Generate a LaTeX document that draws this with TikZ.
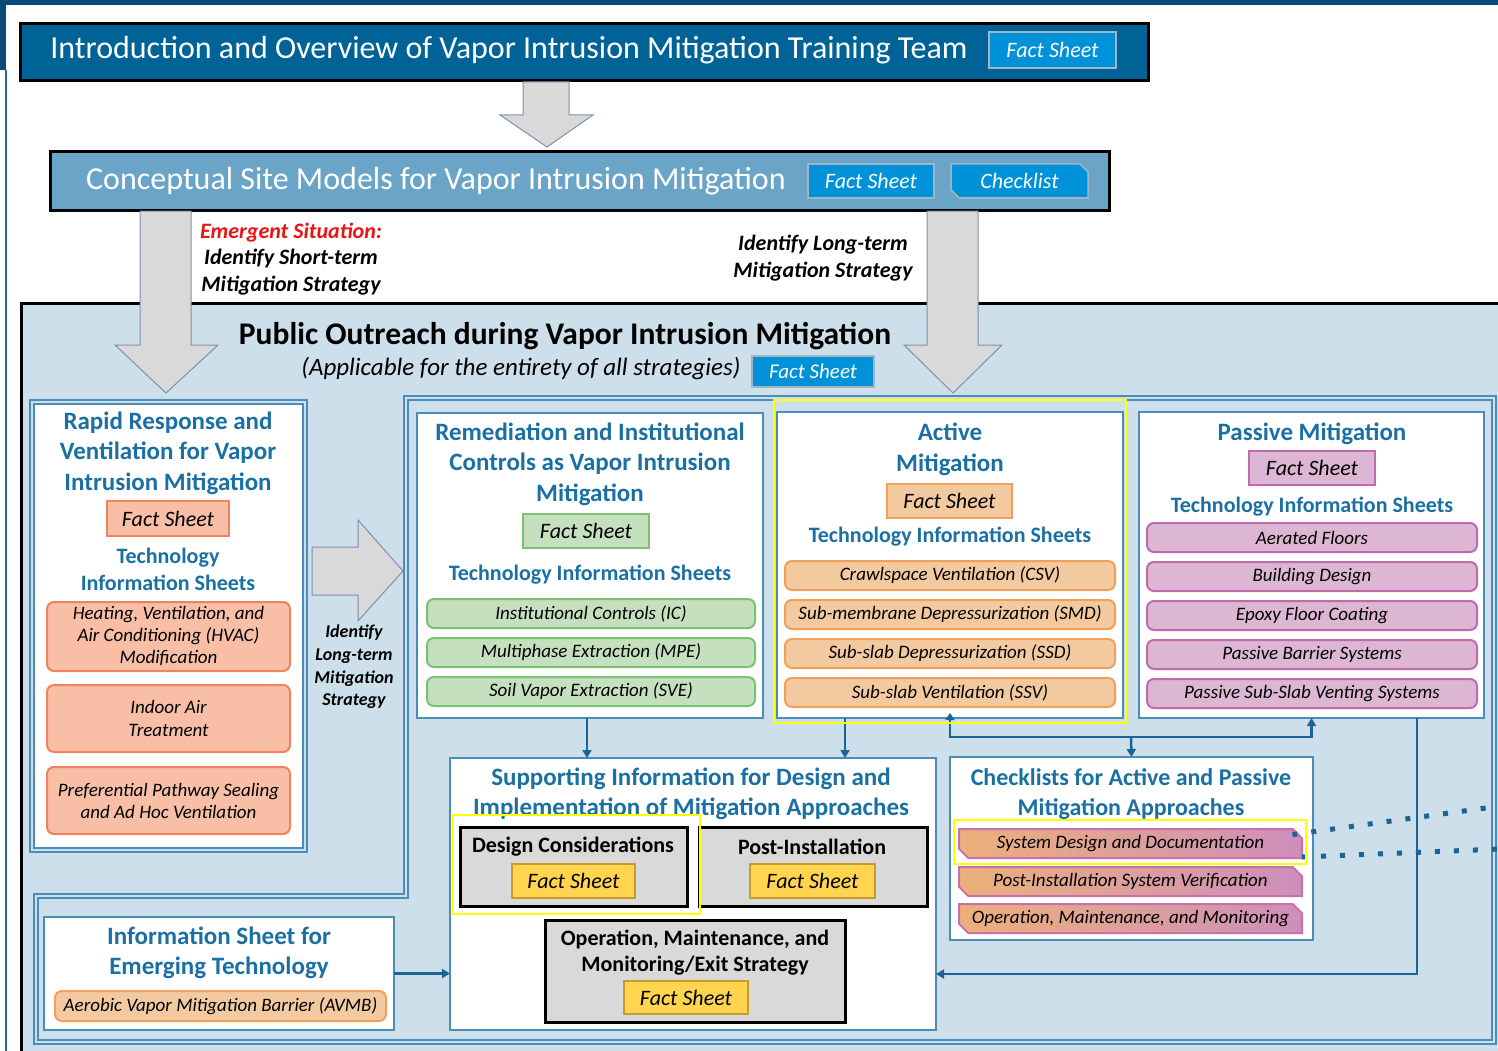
\documentclass[tikz,border=0pt]{standalone}
\usepackage{fontspec}
\setmainfont{Carlito}
\usetikzlibrary{arrows.meta,shapes.misc,calc}
\newcommand\myfs[2]{\fontsize{#1}{#2}\selectfont}
\definecolor{navy}{RGB}{10,75,120}
\definecolor{leftline}{RGB}{30,110,165}
\definecolor{tonebl}{RGB}{0,99,152}
\definecolor{ttwobl}{RGB}{106,164,199}
\definecolor{btnblue}{RGB}{0,146,216}
\definecolor{btnedge}{RGB}{165,180,195}
\definecolor{bgblue}{RGB}{204,223,234}
\definecolor{frameblue}{RGB}{74,141,184}
\definecolor{connblue}{RGB}{28,100,150}
\definecolor{ttlblue}{RGB}{27,112,163}
\definecolor{salfill}{RGB}{248,190,166}
\definecolor{saledge}{RGB}{240,130,95}
\definecolor{grfill}{RGB}{197,224,190}
\definecolor{gredge}{RGB}{125,192,115}
\definecolor{orfill}{RGB}{243,202,160}
\definecolor{oredge}{RGB}{240,160,90}
\definecolor{pkfill}{RGB}{221,182,212}
\definecolor{pkedge}{RGB}{192,105,172}
\definecolor{gybox}{RGB}{217,217,217}
\definecolor{ylfill}{RGB}{255,213,80}
\definecolor{yledge}{RGB}{200,155,45}
\definecolor{hilite}{RGB}{255,255,0}
\definecolor{arrfill}{RGB}{217,217,217}
\definecolor{arredge}{RGB}{125,145,175}
\definecolor{emred}{RGB}{235,20,20}
\definecolor{ckleft}{RGB}{236,176,122}
\definecolor{ckright}{RGB}{206,142,188}
\definecolor{ckedge}{RGB}{200,112,170}
\tikzset{
 bx/.style n args={4}{inner sep=0pt, outer sep=0pt, minimum width={#3-#1}, minimum height={#4-#2}, at={({(#1+#3)/2},{(#2+#4)/2})}},
 btn/.style={fill=btnblue, draw=btnedge, line width=1.5pt, text=white, font=\itshape\myfs{22}{26}},
 wbox/.style={fill=white, draw=frameblue, line width=2pt},
 ttl/.style={text=ttlblue, font=\bfseries\myfs{25}{30.5}, align=center},
 tis/.style={text=ttlblue, font=\bfseries\myfs{22}{27}, align=center},
 itembox/.style={rounded corners=7pt, line width=2pt, font=\itshape\myfs{19}{22}, align=center},
 salitem/.style={itembox, fill=salfill, draw=saledge},
 gritem/.style={itembox, fill=grfill, draw=gredge},
 oritem/.style={itembox, fill=orfill, draw=oredge},
 pkitem/.style={itembox, fill=pkfill, draw=pkedge},
 factbox/.style={line width=2pt, font=\itshape\myfs{22}{26}},
 gbox/.style={fill=gybox, draw=black, line width=3pt},
 gtxt/.style={font=\bfseries\myfs{22}{26}, align=center},
 hl/.style={draw=hilite, line width=2pt},
 bigarrow/.style={fill=arrfill, draw=arredge, line width=1pt},
 cn/.style={draw=connblue, line width=2.5pt, -{Triangle[width=9pt,length=8pt]}},
 cnline/.style={draw=connblue, line width=2.5pt},
 ckitem/.style={chamfered rectangle, chamfered rectangle corners={north east,south west}, chamfered rectangle xsep=6pt, left color=ckleft, right color=ckright, draw=ckedge, line width=2pt, font=\itshape\myfs{19}{22}},
 dotline/.style={draw=connblue, line width=5pt, dash pattern=on 5pt off 14pt},
 strat/.style={font=\bfseries\itshape\myfs{22}{26.5}, align=center},
}
\begin{document}
\begin{tikzpicture}[x=1pt,y=-1pt]
\useasboundingbox (0,0) rectangle (1498,1051);
\clip (0,0) rectangle (1498,1051);
\fill[white] (0,0) rectangle (1498,1051);
% page edges
\fill[navy] (0,0) rectangle (1498,5);
\fill[navy] (0,0) rectangle (6,70);
\draw[leftline, line width=2pt] (6,70) -- (6,1051);

% Public outreach background
\fill[bgblue] (21,303) rectangle (1500,1055);
\draw[black, line width=3pt] (1500,303) -- (21.5,303) -- (21.5,1055);

% Title 1
\node[bx={20}{24}{1148}{81}, fill=tonebl, draw=black, line width=3pt] (intro) {};
\node[text=white, font=\myfs{32}{38}] (introtxt) at (509,50) {Introduction and Overview of Vapor Intrusion Mitigation Training Team};
\node[bx={989}{32}{1116}{68}, btn] (introfs) {Fact Sheet};

% top arrow
\draw[bigarrow] (523,82) -- (569,82) -- (569,115) -- (593,115) -- (547,147) -- (500,115) -- (523,115) -- cycle;

% Title 2
\node[bx={50}{152}{1109}{210}, fill=ttwobl, draw=black, line width=3pt] (csm) {};
\node[text=white, font=\myfs{32}{38}] (csmtxt) at (436,181) {Conceptual Site Models for Vapor Intrusion Mitigation};
\node[bx={808}{164}{934}{198}, btn] (csmfs) {Fact Sheet};
\node[bx={951}{164}{1088}{198}, btn, chamfered rectangle, chamfered rectangle corners={north east,south west}, chamfered rectangle xsep=5pt] (csmck) {Checklist};

% strategy texts
\node[strat] (shortt) at (291,259) {\textcolor{emred}{Emergent Situation:}\\Identify Short-term\\Mitigation Strategy};
\node[strat] (longt) at (823,258) {Identify Long-term\\Mitigation Strategy};

% PO title
\node[font=\bfseries\myfs{31.5}{36}] (po) at (565,336) {Public Outreach during Vapor Intrusion Mitigation};
\node[font=\itshape\myfs{25}{28}, anchor=east] (posub) at (744,369) {(Applicable for the entirety of all strategies)};
\node[bx={752}{356}{874}{387}, btn, font=\itshape\myfs{21}{24}] (pofs) {Fact Sheet};

% L frame
\draw[frameblue, line width=1.3pt, double=bgblue, double distance=2.5pt] (406,398) -- (1494,398) -- (1494,1042) -- (36,1042) -- (36,896) -- (406,896) -- cycle;

% big down arrows
\draw[bigarrow] (140,211) -- (191,211) -- (191,345) -- (218,345) -- (166,393) -- (115,345) -- (140,345) -- cycle;
\draw[bigarrow] (927,211) -- (978,211) -- (978,345) -- (1002,345) -- (953,393) -- (904,345) -- (927,345) -- cycle;

% left column
\node[bx={32}{402}{305}{850}, fill=white, draw=frameblue, line width=1.3pt, double=bgblue, double distance=2.5pt] (rapid) {};
\node[ttl] (rapidt) at (168,453) {Rapid Response and\\Ventilation for Vapor\\Intrusion Mitigation};
\node[bx={107}{501}{229}{536}, factbox, fill=salfill, draw=saledge] (rapidfs) {Fact Sheet};
\node[tis] (rapidtis) at (168,569) {Technology\\Information Sheets};
\node[bx={47}{602}{290}{671}, salitem] (hvac) {Heating, Ventilation, and\\Air Conditioning (HVAC)\\Modification};
\node[bx={47}{685}{290}{752}, salitem, font=\itshape\myfs{19}{23}] (iat) {Indoor Air\\Treatment};
\node[bx={47}{767}{290}{834}, salitem] (pps) {Preferential Pathway Sealing\\and Ad Hoc Ventilation};

% horizontal arrow
\draw[bigarrow] (312,547) -- (358,547) -- (358,520) -- (403,571) -- (358,621) -- (358,595) -- (312,595) -- cycle;
\node[font=\bfseries\itshape\myfs{18}{22.7}, align=center] (hlabel) at (354,667) {Identify\\Long-term\\Mitigation\\Strategy};

% Remediation
\node[bx={417}{413}{763}{718}, wbox] (rem) {};
\node[ttl] (remt) at (590,464) {Remediation and Institutional\\Controls as Vapor Intrusion\\Mitigation};
\node[bx={523}{514}{649}{548}, factbox, fill=grfill, draw=gredge] (remfs) {Fact Sheet};
\node[tis] (remtis) at (590,575) {Technology Information Sheets};
\node[bx={427}{599}{755}{628}, gritem] (ic) {Institutional Controls (IC)};
\node[bx={427}{638}{755}{667}, gritem] (mpe) {Multiphase Extraction (MPE)};
\node[bx={427}{677}{755}{706}, gritem] (sve) {Soil Vapor Extraction (SVE)};

% Active
\node[bx={777}{412}{1123}{718}, wbox] (act) {};
\node[ttl, font=\bfseries\myfs{25}{31}] (actt) at (950,449) {Active\\Mitigation};
\node[bx={887}{484}{1012}{518}, factbox, fill=orfill, draw=oredge] (actfs) {Fact Sheet};
\node[tis] (acttis) at (950,537) {Technology Information Sheets};
\node[bx={785}{561}{1115}{590}, oritem] (csv) {Crawlspace Ventilation (CSV)};
\node[bx={785}{600}{1115}{629}, oritem] (smd) {Sub-membrane Depressurization (SMD)};
\node[bx={785}{639}{1115}{668}, oritem] (ssd) {Sub-slab Depressurization (SSD)};
\node[bx={785}{678}{1115}{707}, oritem] (ssv) {Sub-slab Ventilation (SSV)};

% Passive
\node[bx={1139}{412}{1484}{718}, wbox] (pas) {};
\node[ttl] (past) at (1312,434) {Passive Mitigation};
\node[bx={1249}{451}{1375}{485}, factbox, fill=pkfill, draw=pkedge] (pasfs) {Fact Sheet};
\node[tis] (pastis) at (1312,507) {Technology Information Sheets};
\node[bx={1147}{523}{1477}{552}, pkitem] (af) {Aerated Floors};
\node[bx={1147}{562}{1477}{591}, pkitem] (bd) {Building Design};
\node[bx={1147}{601}{1477}{630}, pkitem] (efc) {Epoxy Floor Coating};
\node[bx={1147}{640}{1477}{669}, pkitem] (pbs) {Passive Barrier Systems};
\node[bx={1147}{679}{1477}{708}, pkitem] (pss) {Passive Sub-Slab Venting Systems};

% Supporting
\node[bx={450}{758}{936}{1030}, wbox] (sup) {};
\node[ttl, font=\bfseries\myfs{25}{30}] (supt) at (691,794) {Supporting Information for Design and\\Implementation of Mitigation Approaches};
\node[bx={699}{827}{927}{906}, gbox] (post) {};
\node[gtxt] (postt) at (812,847) {Post-Installation};
\node[bx={750}{864}{875}{898}, factbox, fill=ylfill, draw=yledge] (postfs) {Fact Sheet};
\node[bx={460}{827}{687}{906}, gbox] (des) {};
\node[gtxt] (dest) at (573,847) {Design Considerations};
\node[bx={512}{864}{635}{898}, factbox, fill=ylfill, draw=yledge] (desfs) {Fact Sheet};
\node[bx={545}{920}{845}{1022}, gbox] (omm) {};
\node[gtxt] (ommt) at (695,953) {Operation, Maintenance, and\\Monitoring/Exit Strategy};
\node[bx={624}{981}{748}{1014}, factbox, fill=ylfill, draw=yledge] (ommfs) {Fact Sheet};

% Checklists
\node[bx={950}{757}{1313}{940}, wbox] (chk) {};
\node[ttl, font=\bfseries\myfs{24}{30}] (chkt) at (1131,794) {Checklists for Active and Passive\\Mitigation Approaches};
\node[bx={959}{829}{1302}{858}, ckitem] (ck1) {System Design and Documentation};
\node[bx={959}{867}{1302}{896}, ckitem] (ck2) {Post-Installation System Verification};
\node[bx={959}{904}{1302}{933}, ckitem] (ck3) {Operation, Maintenance, and Monitoring};

% Emerging
\node[bx={44}{917}{394}{1030}, wbox] (emg) {};
\node[ttl, font=\bfseries\myfs{25}{30}] (emgt) at (219,953) {Information Sheet for\\Emerging Technology};
\node[bx={55}{991}{386}{1021}, oritem, font=\itshape\myfs{19}{21}] (avmb) {Aerobic Vapor Mitigation Barrier (AVMB)};

% connectors
\draw[cn] ([xshift=-3pt]rem.south) -- ([xshift=-3pt]rem.south |- sup.north);
\draw[cn] ([xshift=-105pt]act.south) -- ([xshift=-105pt]act.south |- sup.north);
\coordinate (brk) at (1131,737);
\draw[cnline, {Triangle[width=9pt,length=7pt]}-{Triangle[width=9pt,length=8pt]}] ([yshift=5pt]act.south) -- (act.south |- brk) -- (pas.south |- brk) -- (pas.south);
\draw[cn] (brk) -- (chk.north);
\coordinate (loop) at (1417,974);
\draw[cn] (pas.south -| loop) -- (loop) -- (sup.east |- loop);
\draw[cn] (emg.east) -- (emg.east -| sup.west);
\coordinate (dotA) at (1500,806);
\coordinate (dotB) at (1500,849);
\draw[dotline] ([xshift=-5pt,yshift=-1pt]ck1.north east) -- (dotA);
\draw[dotline] ([yshift=1pt]ck1.south east) -- (dotB);

% highlights
\draw[hl] (774,400) rectangle (1126,723);
\draw[hl] (453,815) rectangle (700,914);
\draw[hl] (954,820) rectangle (1306,864);
\end{tikzpicture}
\end{document}
